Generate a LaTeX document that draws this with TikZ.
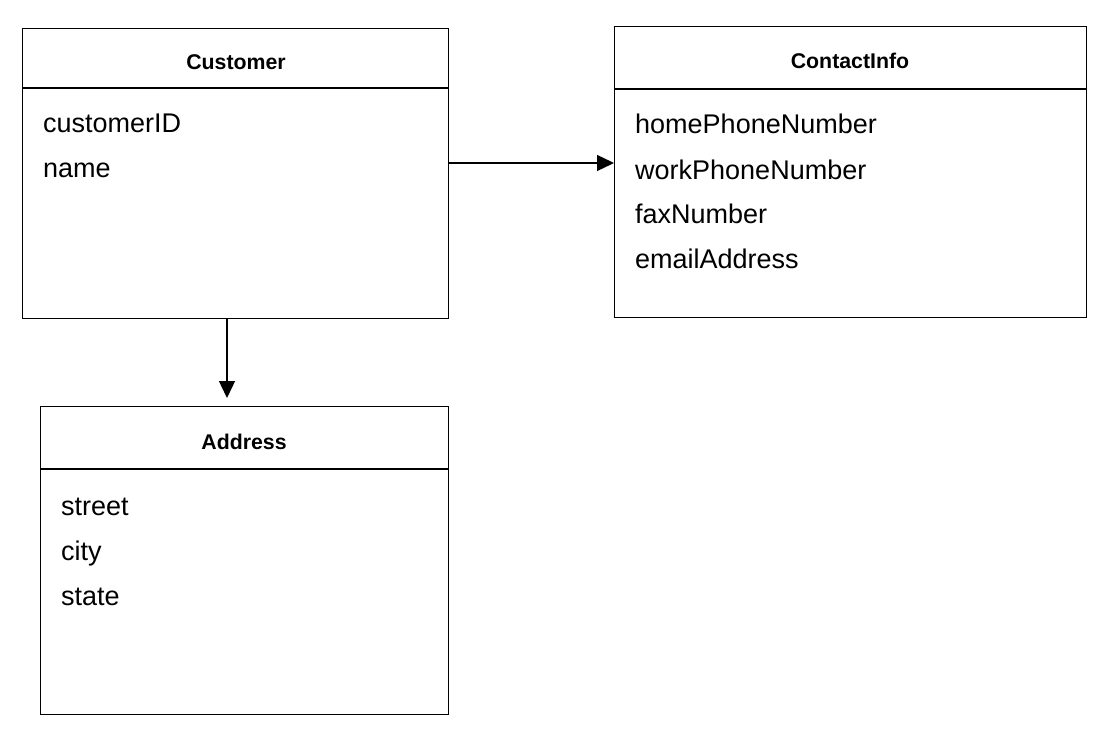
\documentclass[tikz,border=0pt]{standalone}
\usepackage{fontspec}
\setmainfont{Liberation Sans}
\usetikzlibrary{arrows.meta}
\begin{document}
\begin{tikzpicture}[x=1pt,y=-1pt,
  umlbox/.style={draw=black, line width=1.4pt, rectangle, inner sep=0pt, anchor=north west},
  hdr/.style={font=\fontsize{21.3}{24}\selectfont\bfseries, inner sep=0pt, anchor=base},
  attr/.style={font=\fontsize{27}{30}\selectfont, inner sep=0pt, anchor=base west},
  conn/.style={line width=1.4pt, -{Triangle[length=17pt,width=16pt]}}]
\useasboundingbox[fill=white] (0,0) rectangle (1120,741);

% Customer
\node[umlbox, minimum width=426pt, minimum height=290pt] (cust) at (22,28) {};
\draw[line width=1.4pt] ([yshift=-60pt]cust.north west) -- ([yshift=-60pt]cust.north east);
\node[hdr] (custh) at (236,70) {Customer};
\node[attr] (c1) at (43,133) {customerID};
\node[attr] (c2) at (43,178) {name};

% ContactInfo
\node[umlbox, minimum width=472pt, minimum height=291pt] (ci) at (614,26) {};
\draw[line width=1.4pt] ([yshift=-63pt]ci.north west) -- ([yshift=-63pt]ci.north east);
\node[hdr] (cih) at (850,69) {ContactInfo};
\node[attr] (i1) at (635,134) {homePhoneNumber};
\node[attr] (i2) at (635,179) {workPhoneNumber};
\node[attr] (i3) at (635,224) {faxNumber};
\node[attr] (i4) at (635,269) {emailAddress};

% Address
\node[umlbox, minimum width=408pt, minimum height=308pt] (addr) at (40,406) {};
\draw[line width=1.4pt] ([yshift=-63pt]addr.north west) -- ([yshift=-63pt]addr.north east);
\node[hdr] (addrh) at (244,449) {Address};
\node[attr] (a1) at (61,515) {street};
\node[attr] (a2) at (61,560) {city};
\node[attr] (a3) at (61,605) {state};

% connectors
\coordinate (rowy) at (0,163);
\coordinate (colx) at (227,0);
\draw[conn] (cust.east |- rowy) -- (ci.west |- rowy);
\draw[conn] (cust.south -| colx) -- ([yshift=8pt]addr.north -| colx);
\end{tikzpicture}
\end{document}
